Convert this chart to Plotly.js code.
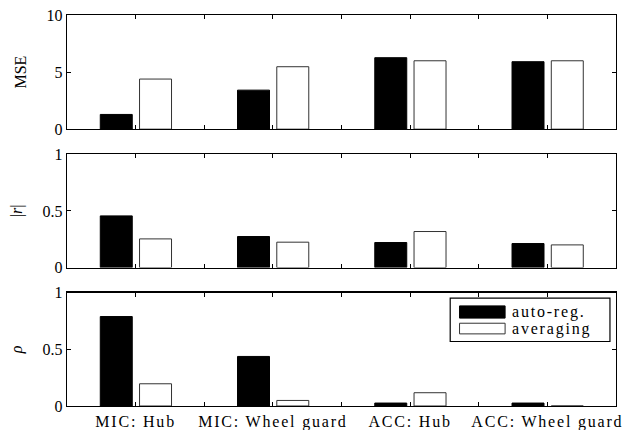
<!DOCTYPE html>
<html><head><meta charset="utf-8">
<script src="https://cdn.plot.ly/plotly-3.0.1.min.js"></script>
<style>
body{margin:0;background:#fff;}
.xaxislayer-above text{letter-spacing:1.8px;}
.annotation-text{letter-spacing:1.8px;}
</style></head>
<body><div id="chart" style="width:629px;height:430px"></div>
<script>
const categories = ['MIC: Hub', 'MIC: Wheel guard', 'ACC: Hub', 'ACC: Wheel guard'];
const seriesNames = ['auto-reg.', 'averaging'];
const mseAutoReg = [1.29, 3.42, 6.26, 5.91];
const mseAveraging = [4.39, 5.47, 5.99, 5.99];
const rAutoReg = [0.456, 0.274, 0.221, 0.212];
const rAveraging = [0.253, 0.224, 0.318, 0.200];
const rhoAutoReg = [0.789, 0.437, 0.026, 0.026];
const rhoAveraging = [0.196, 0.049, 0.117, 0.0];
const panelTitles = ['MSE', '|<i>r</i>|', '<i>ρ</i>'];
const panelTickVals = [[0, 5, 10], [0, 0.5, 1], [0, 0.5, 1]];
const panelRanges = [[0, 10], [0, 1], [0, 1]];

const FONT = 'Liberation Serif, DejaVu Serif, serif';
const xs = categories.map((c, i) => 2 * i + 1);
const xTickVals = [1, 2, 3, 4, 5, 6, 7];
const xTickText = xTickVals.map(v => (v % 2 === 1) ? categories[(v - 1) / 2] : '');

const seriesFill = ['#000', '#fff'];
const seriesLine = ['#000', '#333'];
const seriesOffset = [-0.515, 0.057];

const panels = [[mseAutoReg, mseAveraging], [rAutoReg, rAveraging], [rhoAutoReg, rhoAveraging]];
const traces = [];
panels.forEach((pair, p) => {
  const sfx = p === 0 ? '' : String(p + 1);
  pair.forEach((vals, s) => {
    traces.push({
      type: 'bar', x: xs, y: vals, name: seriesNames[s],
      xaxis: 'x' + sfx, yaxis: 'y' + sfx,
      offset: seriesOffset[s], width: 0.466,
      marker: {color: seriesFill[s], line: {color: seriesLine[s], width: 1}},
      showlegend: false, hoverinfo: 'skip'
    });
  });
});

// custom legend (wide swatches) inside the bottom panel
const legX0 = 0.698, legX1 = 0.989, legY0 = 0.569, legY1 = 0.951;
const swX0 = 0.715, swX1 = 0.798;
const swY = [[0.775, 0.883], [0.636, 0.730]];
const txtY = [0.829, 0.683];
const shapes = [{
  type: 'rect', xref: 'x3 domain', yref: 'y3 domain',
  x0: legX0, x1: legX1, y0: legY0, y1: legY1,
  line: {color: '#000', width: 1.2}, fillcolor: '#fff', layer: 'above'
}];
const annotations = [];
seriesNames.forEach((nm, s) => {
  shapes.push({
    type: 'rect', xref: 'x3 domain', yref: 'y3 domain',
    x0: swX0, x1: swX1, y0: swY[s][0], y1: swY[s][1],
    line: {color: seriesLine[s], width: 1}, fillcolor: seriesFill[s], layer: 'above'
  });
  annotations.push({
    xref: 'x3 domain', yref: 'y3 domain', x: 0.807, y: txtY[s],
    xanchor: 'left', yanchor: 'middle', showarrow: false, text: nm,
    font: {family: FONT, size: 16, color: '#000'}
  });
});

const domains = [[0.708, 1], [0.354, 0.644], [0, 0.29]];
const layout = {
  width: 629, height: 430,
  margin: {l: 67, r: 13, t: 15, b: 24},
  paper_bgcolor: '#fff', plot_bgcolor: '#fff',
  font: {family: FONT, size: 15, color: '#000'},
  showlegend: false,
  shapes: shapes, annotations: annotations,
  bargap: 0
};
for (let p = 0; p < 3; p++) {
  const sfx = p === 0 ? '' : String(p + 1);
  layout['xaxis' + sfx] = {
    domain: [0, 1], anchor: 'y' + sfx, range: [0, 8],
    tickmode: 'array', tickvals: xTickVals, ticktext: xTickText,
    ticks: 'inside', ticklen: 4, tickwidth: 1, tickcolor: '#000',
    showline: true, linecolor: '#000', linewidth: 1.3, mirror: 'ticks',
    showgrid: false, zeroline: false,
    showticklabels: p === 2,
    tickfont: {family: FONT, size: 16, color: '#000'},
    matches: p === 0 ? undefined : 'x'
  };
  layout['yaxis' + sfx] = {
    domain: domains[p], anchor: 'x' + sfx, range: panelRanges[p],
    tickmode: 'array', tickvals: panelTickVals[p],
    ticks: 'inside', ticklen: 4, tickwidth: 1, tickcolor: '#000',
    showline: true, linecolor: '#000', linewidth: 1.3, mirror: 'ticks',
    showgrid: false, zeroline: false,
    tickfont: {family: FONT, size: 16, color: '#000'},
    title: {text: panelTitles[p], font: {family: FONT, size: 16, color: '#000'}, standoff: 16}
  };
}
Plotly.newPlot('chart', traces, layout, {displayModeBar: false, staticPlot: true});
</script>
</body></html>
